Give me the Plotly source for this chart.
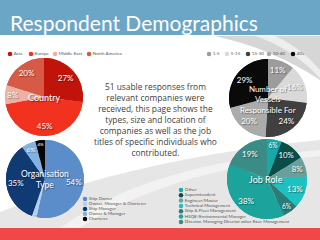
import plotly.graph_objects as go

W, H = 320, 240

title_text = "Respondent Demographics"

country_labels = ["Asia", "Europe", "Middle East", "North America"]
country_values = [27, 45, 8, 20]
country_colors = ["#C0140A", "#F0321E", "#EDB0A4", "#D65A46"]

vessel_labels = ["1-5", "5-15", "15-30", "30-40", "40+"]
vessel_values = [11, 16, 24, 20, 29]
vessel_colors = ["#9C9C9C", "#D9D9D9", "#404040", "#ABABAB", "#0A0A0A"]

org_labels = ["Ship Owner", "Owner, Manager & Charterer", "Ship Manager",
              "Owner & Manager", "Charterer"]
org_values = [54, 2, 35, 6, 4]
org_colors = ["#5B8DCB", "#B3D0EE", "#0F3A74", "#80B2E2", "#050505"]

job_labels = ["Other", "Superintendent", "Engineer/Master", "Technical Management",
              "Ship & Fleet Management", "HSQE/Environmental Manager",
              "Director, Managing Director other Exec Management"]
job_values = [6, 10, 8, 13, 6, 38, 19]
job_colors = ["#15AAA8", "#0B4E48", "#6A9F9B", "#1EC0C0", "#2B7C75", "#1BA39C", "#3B8C87"]

intro_lines = ["51 usable responses from", "relevant companies were",
               "received, this page shows the", "types, size and location of",
               "companies as well as the job", "titles of specific individuals who",
               "contributed."]

pie_titles = {
    "country": ["Country"],
    "vessel": ["Number of", "Vessels", "Responsible For"],
    "org": ["Organisation", "Type"],
    "job": ["Job Role"],
}

FONT = "Lato"
SHADOW = "1px 1px 1px rgba(0,0,0,0.45)"


def dom(cx, cy, r):
    return dict(x=[(cx - r) / W, (cx + r) / W], y=[(H - cy - r) / H, (H - cy + r) / H])


fig = go.Figure()

# hidden pixel axes for legends
fig.update_layout(
    xaxis=dict(range=[0, W], visible=False, fixedrange=True, domain=[0, 1]),
    yaxis=dict(range=[H, 0], visible=False, fixedrange=True, domain=[0, 1]),
)


def add_pie(labels, values, colors, center, r, hole=0.5):
    common = dict(labels=labels, values=values, sort=False, direction="clockwise",
                  rotation=0, marker=dict(colors=colors, line=dict(width=0)),
                  domain=dom(*center, r), showlegend=False)
    # full pie underneath
    fig.add_trace(go.Pie(textinfo="none", hoverinfo="skip", **common))
    # ring on top carrying the labels near the rim, as in the reference
    fig.add_trace(go.Pie(
        hole=hole,
        text=[f"{v}%" for v in values], textinfo="text", textposition="inside",
        insidetextorientation="horizontal",
        textfont=dict(family=FONT, size=8, color="white", shadow=SHADOW),
        hoverinfo="label+text", **common,
    ))


add_pie(country_labels, country_values, country_colors, (44, 97), 39)
add_pie(vessel_labels, vessel_values, vessel_colors, (268, 98), 39)
add_pie(org_labels, org_values, org_colors, (45, 179), 39)
add_pie(job_labels, job_values, job_colors, (267, 179), 40)


def add_legend(labels, colors, xs, ys, size=4.5):
    fig.add_trace(go.Scatter(
        x=xs, y=ys, mode="markers+text", text=labels, textposition="middle right",
        marker=dict(color=colors, size=size),
        textfont=dict(family=FONT, size=4.5, color="#555555"),
        showlegend=False, hoverinfo="skip", cliponaxis=False,
    ))


add_legend(country_labels, country_colors, [10, 31, 55, 89], [54] * 4)
add_legend(vessel_labels, vessel_colors, [209, 227, 248, 269, 293], [54] * 5)
add_legend(org_labels, org_colors, [85] * 5, [199, 204, 209, 214, 219])
add_legend(job_labels, job_colors, [181] * 7, [190, 195.3, 200.6, 206, 211.3, 216.6, 222])

shapes = [
    # light grey background swoosh lower part
    dict(type="path", path="M 0,228 L 0,212 C 70,185 170,155 320,140 L 320,228 Z",
         fillcolor="#E6E6E6", line=dict(width=0), layer="below", xref="x", yref="y"),
    dict(type="path", path="M 60,228 C 120,185 200,160 320,150 L 320,156 C 210,165 130,195 80,228 Z",
         fillcolor="#F2F2F2", line=dict(width=0), layer="below", xref="x", yref="y"),
    # upper right grey
    dict(type="path", path="M 215,36 L 320,36 L 320,80 C 290,60 255,45 215,36 Z",
         fillcolor="#D6D6D6", line=dict(width=0), layer="below", xref="x", yref="y"),
    dict(type="path", path="M 255,36 L 275,36 C 295,45 310,58 320,70 L 320,78 C 305,62 285,46 255,36 Z",
         fillcolor="#EEEEEE", line=dict(width=0), layer="below", xref="x", yref="y"),
    # title bar
    dict(type="rect", x0=0, x1=W, y0=0, y1=35, fillcolor="#6CA6C6",
         line=dict(width=0), layer="below", xref="x", yref="y"),
    # footer
    dict(type="rect", x0=0, x1=W, y0=228, y1=H, fillcolor="#F04848",
         line=dict(width=0), layer="below", xref="x", yref="y"),
]

annotations = [
    dict(x=8, y=22, xref="x", yref="y", text=title_text, showarrow=False,
         xanchor="left", yanchor="middle", font=dict(family=FONT, size=21, color="white")),
    dict(x=155, y=119, xref="x", yref="y", text="<br>".join(intro_lines),
         showarrow=False, xanchor="center", yanchor="middle", align="center",
         font=dict(family="Open Sans", size=8.4, color="#404040")),
]


def center_label(lines, cx, cy, size=8):
    annotations.append(dict(x=cx, y=cy, xref="x", yref="y", text="<br>".join(lines),
                            showarrow=False, xanchor="center", yanchor="middle",
                            align="center",
                            font=dict(family=FONT, size=size, color="white", shadow=SHADOW)))


center_label(pie_titles["country"], 44, 97, 9)
center_label(pie_titles["vessel"], 268, 99, 8)
center_label(pie_titles["org"], 45, 179, 8.5)
center_label(pie_titles["job"], 266, 179, 9)

fig.update_layout(
    width=W, height=H, margin=dict(l=0, r=0, t=0, b=0),
    paper_bgcolor="white", plot_bgcolor="white",
    shapes=shapes, annotations=annotations, showlegend=False,
)

fig.write_html("out.html", config={"displayModeBar": False})
